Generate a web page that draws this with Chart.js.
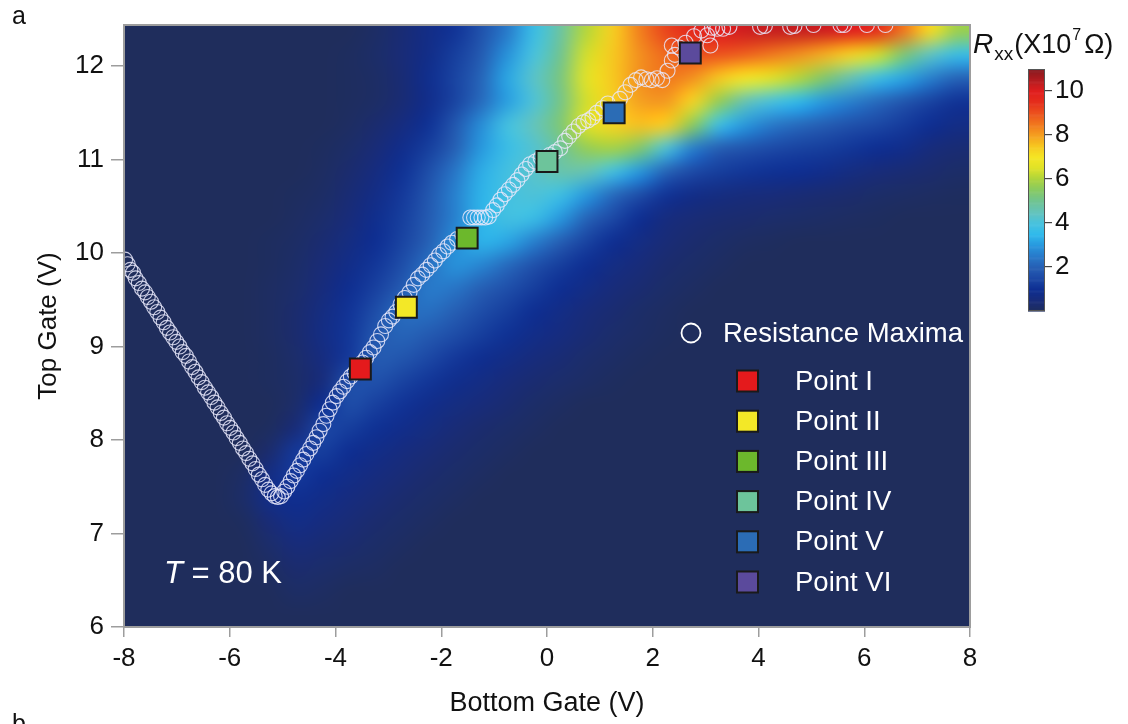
<!DOCTYPE html>
<html><head><meta charset="utf-8">
<script src="https://cdn.jsdelivr.net/npm/chart.js@4.4.1/dist/chart.umd.min.js"></script>
<style>html,body{margin:0;padding:0;background:#fff;}#wrap{width:1128px;height:724px;}</style>
</head><body><div id="wrap"><canvas id="c" width="1128" height="724"></canvas></div>
<script>
const FONT = "'Liberation Sans', Arial, Helvetica, sans-serif";

// ---- axis ticks ----
const xTicks = [-8, -6, -4, -2, 0, 2, 4, 6, 8];
const yTicks = [6, 7, 8, 9, 10, 11, 12];
const cbTicks = [2, 4, 6, 8, 10];

// ---- heat map grid (cell centres, V) and Rxx values (x10^7 Ohm) ----
const gridX = [-7.75,-7.25,-6.75,-6.25,-5.75,-5.25,-4.75,-4.25,-3.75,-3.25,-2.75,-2.25,-1.75,-1.25,-0.75,-0.25,0.25,0.75,1.25,1.75,2.25,2.75,3.25,3.75,4.25,4.75,5.25,5.75,6.25,6.75,7.25,7.75];
const gridY = [6.125,6.375,6.625,6.875,7.125,7.375,7.625,7.875,8.125,8.375,8.625,8.875,9.125,9.375,9.625,9.875,10.125,10.375,10.625,10.875,11.125,11.375,11.625,11.875,12.125,12.375];
const rxx06125 = [0,0,0,0,0,0,0,0,0,0,0,0,0,0,0,0,0,0,0,0,0,0,0,0,0,0,0,0,0,0,0,0];
const rxx06375 = [0,0,0,0,0,0,0.15,0.1,0,0,0,0,0,0,0,0,0,0,0,0,0,0,0,0,0,0,0,0,0,0,0,0];
const rxx06625 = [0,0,0,0,0,0.1,0.3,0.25,0.15,0.1,0,0,0,0,0,0,0,0,0,0,0,0,0,0,0,0,0,0,0,0,0,0];
const rxx06875 = [0,0,0,0,0,0.25,0.5,0.4,0.3,0.2,0.1,0,0,0,0,0,0,0,0,0,0,0,0,0,0,0,0,0,0,0,0,0];
const rxx07125 = [0,0,0,0,0.05,0.45,0.75,0.6,0.45,0.3,0.2,0.1,0,0,0,0,0,0,0,0,0,0,0,0,0,0,0,0,0,0,0,0];
const rxx07375 = [0,0,0,0,0.2,0.8,0.95,0.8,0.6,0.45,0.3,0.2,0.1,0,0,0,0,0,0,0,0,0,0,0,0,0,0,0,0,0,0,0];
const rxx07625 = [0,0,0,0,0.15,0.7,1.2,1.0,0.8,0.6,0.45,0.3,0.2,0.1,0,0,0,0,0,0,0,0,0,0,0,0,0,0,0,0,0,0];
const rxx07875 = [0,0,0,0,0,0.3,1.2,1.3,1.0,0.8,0.6,0.45,0.3,0.2,0.1,0,0,0,0,0,0,0,0,0,0,0,0,0,0,0,0,0];
const rxx08125 = [0,0,0,0,0,0.05,0.5,1.45,1.3,1.05,0.85,0.65,0.45,0.3,0.2,0.1,0,0,0,0,0,0,0,0,0,0,0,0,0,0,0,0];
const rxx08375 = [0,0,0,0,0,0,0.25,1.0,1.6,1.35,1.1,0.85,0.65,0.5,0.35,0.2,0.1,0,0,0,0,0,0,0,0,0,0,0,0,0,0,0];
const rxx08625 = [0,0,0,0,0,0.05,0.2,0.55,1.6,1.7,1.4,1.15,0.9,0.7,0.5,0.35,0.25,0.15,0.05,0,0,0,0,0,0,0,0,0,0,0,0,0];
const rxx08875 = [0,0,0,0,0,0.05,0.25,0.6,1.2,1.9,1.8,1.5,1.2,0.95,0.75,0.55,0.4,0.25,0.15,0.05,0,0,0,0,0,0,0,0,0,0,0,0];
const rxx09125 = [0,0,0,0,0,0.1,0.3,0.7,1.15,1.8,2.1,1.9,1.6,1.3,1.05,0.8,0.6,0.4,0.25,0.15,0.05,0,0,0,0,0,0,0,0,0,0,0];
const rxx09375 = [0,0,0,0,0,0.1,0.3,0.65,1.1,1.6,2.2,2.3,2.0,1.6,1.3,1.0,0.75,0.5,0.35,0.2,0.1,0,0,0,0,0,0,0,0,0,0,0];
const rxx09625 = [0,0,0,0,0,0.1,0.25,0.55,0.95,1.35,1.9,2.5,2.4,2.0,1.65,1.3,1.0,0.75,0.5,0.35,0.2,0.1,0,0,0,0,0,0,0,0,0,0];
const rxx09875 = [0,0,0,0,0,0.05,0.2,0.45,0.8,1.15,1.6,2.3,2.9,2.7,2.2,1.7,1.3,1.0,0.7,0.5,0.3,0.2,0.1,0,0,0,0,0,0,0,0,0];
const rxx10125 = [0,0,0,0,0,0.05,0.15,0.35,0.65,1.0,1.4,2.0,2.8,3.4,3.2,2.6,2.0,1.4,1.0,0.7,0.45,0.3,0.2,0.1,0.05,0,0,0,0,0,0,0];
const rxx10375 = [0,0,0,0,0,0,0.1,0.25,0.5,0.9,1.3,1.9,2.6,3.4,3.9,3.7,3.0,2.1,1.5,1.0,0.6,0.45,0.35,0.3,0.25,0.2,0.15,0.1,0.05,0,0,0];
const rxx10625 = [0,0,0,0,0,0,0.05,0.15,0.4,0.75,1.2,1.8,2.6,3.4,3.9,4.1,3.8,3.0,2.2,1.6,1.1,0.8,0.65,0.55,0.5,0.42,0.35,0.28,0.2,0.15,0.1,0.05];
const rxx10875 = [0,0,0,0,0,0,0,0.1,0.3,0.6,1.05,1.6,2.4,3.3,3.9,4.3,4.7,4.6,3.9,3.0,2.1,1.55,1.3,1.15,1.05,1.0,0.85,0.65,0.5,0.4,0.3,0.2];
const rxx11125 = [0,0,0,0,0,0,0,0.05,0.2,0.45,0.85,1.3,2.0,3.0,3.7,4.2,4.9,5.7,5.9,5.4,4.1,2.6,2.0,1.75,1.55,1.4,1.3,1.15,1.0,0.85,0.55,0.4];
const rxx11375 = [0,0,0,0,0,0,0,0,0.1,0.3,0.6,1.05,1.8,2.8,3.9,4.5,5.3,6.5,7.3,7.6,7.4,5.6,3.8,3.0,2.5,2.2,1.95,1.7,1.5,1.25,1.0,0.75];
const rxx11625 = [0,0,0,0,0,0,0,0,0.05,0.15,0.4,0.85,1.4,2.2,3.1,4.1,5.1,6.4,7.4,8.0,8.1,7.3,5.7,4.6,4.0,3.5,3.0,2.6,2.2,1.8,1.4,1.1];
const rxx11875 = [0,0,0,0,0,0,0,0,0.05,0.15,0.4,0.9,1.4,2.1,3.2,4.3,5.2,6.6,7.5,8.2,8.5,8.2,7.5,7.0,6.6,6.1,5.4,4.6,3.8,3.2,2.6,2.1];
const rxx12125 = [0,0,0,0,0,0,0,0,0.05,0.2,0.45,0.8,1.3,1.9,2.9,4.0,5.0,6.4,7.5,8.2,8.7,9.0,9.0,8.8,8.5,8.2,7.8,7.3,6.4,5.3,4.4,3.7];
const rxx12375 = [0,0,0,0,0,0,0,0,0,0.15,0.4,0.75,1.1,1.7,2.5,3.7,4.8,6.1,7.4,8.4,9.2,9.7,10.0,10.2,10.3,10.3,10.2,10.0,9.5,8.5,7.2,5.8];
const heatRows = [rxx06125,rxx06375,rxx06625,rxx06875,rxx07125,rxx07375,rxx07625,rxx07875,rxx08125,rxx08375,rxx08625,rxx08875,rxx09125,rxx09375,rxx09625,rxx09875,rxx10125,rxx10375,rxx10625,rxx10875,rxx11125,rxx11375,rxx11625,rxx11875,rxx12125,rxx12375];

// ---- resistance maxima (open circles) ----
const maxX = [-7.98,-7.93,-7.88,-7.83,-7.78,-7.72,-7.66,-7.60,-7.55,-7.49,-7.43,-7.37,-7.31,-7.25,-7.19,-7.13,-7.07,-7.01,-6.95,-6.89,-6.83,-6.77,-6.71,-6.65,-6.59,-6.53,-6.47,-6.41,-6.35,-6.29,-6.23,-6.17,-6.11,-6.05,-5.99,-5.93,-5.87,-5.81,-5.75,-5.69,-5.63,-5.57,-5.51,-5.45,-5.39,-5.33,-5.27,-5.21,-5.15,-5.09,
 -5.03,-4.97,-4.91,-4.85,-4.79,-4.73,-4.67,-4.61,-4.55,-4.48,-4.42,-4.36,-4.30,-4.23,-4.17,-4.11,-4.05,-3.98,-3.92,-3.85,-3.78,-3.71,-3.64,-3.56,-3.49,-3.42,-3.35,-3.28,-3.21,-3.14,-3.06,-2.99,-2.92,-2.85,-2.77,-2.69,-2.60,-2.52,-2.44,-2.36,-2.28,-2.20,-2.12,-2.04,-1.96,-1.88,-1.80,-1.70,-1.60,
 -1.45,-1.38,-1.31,-1.24,-1.17,-1.10,-1.02,-0.95,-0.88,-0.80,-0.72,-0.64,-0.56,-0.48,-0.40,-0.32,-0.22,-0.12,0.05,0.15,0.25,0.34,0.42,0.50,0.60,0.69,0.78,0.86,0.94,1.05,1.15,1.38,1.48,1.58,1.68,1.78,1.88,1.98,2.08,2.18,2.28,2.36,2.42,2.36,2.50,2.62,2.78,2.92,3.03,3.09,3.12,3.22,3.33,3.45,4.03,4.12,4.60,4.68,5.04,5.55,5.62,6.05,6.40];
const maxY = [9.93,9.88,9.82,9.79,9.73,9.68,9.62,9.58,9.53,9.48,9.42,9.37,9.31,9.26,9.20,9.15,9.10,9.05,9.00,8.94,8.90,8.84,8.78,8.73,8.67,8.62,8.56,8.51,8.46,8.40,8.35,8.29,8.24,8.18,8.13,8.08,8.02,7.97,7.91,7.86,7.80,7.75,7.69,7.63,7.58,7.52,7.47,7.43,7.40,7.39,
 7.40,7.45,7.50,7.56,7.62,7.67,7.73,7.79,7.85,7.91,7.97,8.03,8.10,8.17,8.26,8.33,8.40,8.47,8.52,8.57,8.63,8.68,8.72,8.78,8.83,8.88,8.94,8.99,9.06,9.13,9.22,9.28,9.32,9.37,9.45,9.52,9.58,9.66,9.73,9.77,9.82,9.87,9.92,9.98,10.02,10.07,10.11,10.15,10.19,
 10.38,10.38,10.38,10.38,10.38,10.39,10.46,10.51,10.57,10.63,10.68,10.73,10.78,10.84,10.90,10.95,10.98,11.02,11.05,11.08,11.12,11.20,11.25,11.30,11.36,11.40,11.42,11.45,11.50,11.55,11.60,11.65,11.72,11.80,11.85,11.88,11.86,11.85,11.87,11.85,11.95,12.06,12.12,12.22,12.20,12.25,12.32,12.38,12.33,12.22,12.41,12.40,12.40,12.42,12.42,12.43,12.42,12.43,12.44,12.44,12.44,12.44,12.44];

// ---- marked points ----
const pointNames = ['Point I','Point II','Point III','Point IV','Point V','Point VI'];
const pointX = [-3.53, -2.66, -1.51, 0.00, 1.27, 2.71];
const pointY = [8.76, 9.42, 10.16, 10.98, 11.50, 12.14];
const pointColors = ['#e41a1c','#f3e827','#6cb82c','#6dc49b','#2b6cb5','#5b4a9c'];

// ---- colour map (value in 10^7 Ohm -> rgb) ----
const cmapStops = [
 [0,[31,45,92]],[0.5,[24,44,122]],[1.0,[14,46,146]],[1.5,[28,72,165]],[2.0,[38,95,180]],[2.5,[40,122,202]],
 [3.0,[40,152,222]],[3.5,[48,186,236]],[4.0,[72,194,222]],[4.5,[100,196,188]],[5.0,[112,196,146]],[5.5,[135,202,100]],
 [6.0,[172,212,62]],[6.5,[222,226,40]],[7.0,[245,230,36]],[7.5,[247,200,32]],[8.0,[245,160,32]],[8.5,[241,120,30]],
 [9.0,[236,82,30]],[9.5,[229,46,28]],[10.0,[224,30,30]],[10.5,[180,28,32]],[11.0,[135,25,30]]];
function cmap(v){
  if (v <= cmapStops[0][0]) return cmapStops[0][1];
  for (let k = 1; k < cmapStops.length; k++){
    const [v1,c1] = cmapStops[k];
    if (v <= v1){
      const [v0,c0] = cmapStops[k-1];
      const t = (v - v0)/(v1 - v0);
      return [0,1,2].map(n => Math.round(c0[n] + (c1[n]-c0[n])*t));
    }
  }
  return cmapStops[cmapStops.length-1][1];
}
const rgb = c => `rgb(${c[0]},${c[1]},${c[2]})`;

// ---- plugins ----
const heatPlugin = {
  id: 'heat',
  beforeDatasetsDraw(chart){
    const {ctx, chartArea: a, scales: {x, y}} = chart;
    const nx = gridX.length, ny = gridY.length;
    const off = document.createElement('canvas');
    off.width = nx + 2; off.height = ny + 2;
    const octx = off.getContext('2d');
    const img = octx.createImageData(nx + 2, ny + 2);
    for (let r = 0; r < ny + 2; r++){
      const j = Math.min(ny - 1, Math.max(0, ny - r));
      for (let c = 0; c < nx + 2; c++){
        const i = Math.min(nx - 1, Math.max(0, c - 1));
        const col = cmap(heatRows[j][i]);
        const p = (r * (nx + 2) + c) * 4;
        img.data[p] = col[0]; img.data[p+1] = col[1]; img.data[p+2] = col[2]; img.data[p+3] = 255;
      }
    }
    octx.putImageData(img, 0, 0);
    const hx = (gridX[1] - gridX[0]) / 2, hy = (gridY[1] - gridY[0]) / 2;
    const x0 = x.getPixelForValue(gridX[0] - hx), x1 = x.getPixelForValue(gridX[nx-1] + hx);
    const yT = y.getPixelForValue(gridY[ny-1] + hy), yB = y.getPixelForValue(gridY[0] - hy);
    ctx.save();
    ctx.beginPath(); ctx.rect(a.left, a.top, a.right - a.left, a.bottom - a.top); ctx.clip();
    ctx.fillStyle = rgb(cmap(0)); ctx.fillRect(a.left, a.top, a.right - a.left, a.bottom - a.top);
    ctx.imageSmoothingEnabled = true; ctx.imageSmoothingQuality = 'high';
    ctx.drawImage(off, 1, 1, nx, ny, x0, yT, x1 - x0, yB - yT);
    ctx.restore();
  }
};

const cbPlugin = {
  id: 'cbPlace',
  afterLayout(chart){
    const cb = chart.scales.cb;
    cb.left = 1045; cb.right = 1115; cb.width = 70;
    cb.top = 69; cb.bottom = 311; cb.height = 242;
    cb.configure();
  },
  afterDraw(chart){
    const {ctx} = chart;
    const cb = chart.scales.cb;
    const w = 17, xl = cb.left - w;
    ctx.save();
    const step = 0.05;
    for (let v = cb.min; v < cb.max; v += step){
      const yA = cb.getPixelForValue(v), yBp = cb.getPixelForValue(Math.min(cb.max, v + step));
      ctx.fillStyle = rgb(cmap(v + step/2));
      ctx.fillRect(xl, yBp, w, yA - yBp + 0.6);
    }
    ctx.strokeStyle = '#555'; ctx.lineWidth = 1;
    ctx.strokeRect(xl + 0.5, cb.getPixelForValue(cb.max) + 0.5, w - 1, cb.getPixelForValue(cb.min) - cb.getPixelForValue(cb.max) - 1);
    // colour bar title: R_xx (X10^7 Ω)
    ctx.fillStyle = '#111'; ctx.textBaseline = 'alphabetic'; ctx.textAlign = 'left';
    let tx = 973; const by = 53;
    ctx.font = `italic 28px ${FONT}`; ctx.fillText('R', tx, by); tx += ctx.measureText('R').width + 1;
    ctx.font = `19px ${FONT}`; ctx.fillText('xx', tx, by + 7); tx += ctx.measureText('xx').width + 1;
    ctx.font = `27px ${FONT}`; ctx.fillText('(X10', tx, by); tx += ctx.measureText('(X10').width + 1;
    ctx.font = `16px ${FONT}`; ctx.fillText('7', tx, by - 13); tx += ctx.measureText('7').width + 3;
    ctx.font = `27px ${FONT}`; ctx.fillText('Ω)', tx, by);
    // panel letters
    ctx.font = `25px ${FONT}`;
    ctx.fillText('a', 12, 24);
    ctx.fillText('b', 12, 732);
    ctx.restore();
  }
};

const overlayPlugin = {
  id: 'overlay',
  afterDatasetsDraw(chart){
    const {ctx, chartArea: a} = chart;
    ctx.save();
    ctx.strokeStyle = '#9d9d9d'; ctx.lineWidth = 2;
    ctx.strokeRect(a.left, a.top, a.right - a.left, a.bottom - a.top);
    // T = 80 K
    ctx.fillStyle = '#ffffff'; ctx.textBaseline = 'alphabetic'; ctx.textAlign = 'left';
    ctx.font = `italic 31px ${FONT}`;
    const tX = a.left + 40, tY = a.bottom - 44;
    ctx.fillText('T', tX, tY);
    const tw = ctx.measureText('T').width;
    ctx.font = `31px ${FONT}`;
    ctx.fillText(' = 80 K', tX + tw, tY);
    // legend (inside plot)
    const ds = chart.data.datasets;
    ctx.textBaseline = 'middle';
    ctx.font = `27.5px ${FONT}`;
    const cy0 = a.top + 308;
    ctx.strokeStyle = '#ffffff'; ctx.lineWidth = 1.8;
    ctx.beginPath(); ctx.arc(a.right - 279, cy0, 9.5, 0, Math.PI * 2); ctx.stroke();
    ctx.fillText(ds[0].label, a.right - 247, cy0 + 1);
    for (let k = 1; k < ds.length; k++){
      const cy = a.top + 356 + (k - 1) * 40.2;
      const cx = a.right - 222.5;
      ctx.fillStyle = ds[k].pointBackgroundColor;
      ctx.fillRect(cx - 10.5, cy - 10.5, 21, 21);
      ctx.strokeStyle = '#1a1a1a'; ctx.lineWidth = 2;
      ctx.strokeRect(cx - 10.5, cy - 10.5, 21, 21);
      ctx.fillStyle = '#ffffff';
      ctx.fillText(ds[k].label, a.right - 175, cy + 1);
    }
    ctx.restore();
  }
};

// ---- datasets ----
const datasets = [{
  label: 'Resistance Maxima',
  data: maxX.map((v, i) => ({x: v, y: maxY[i]})),
  pointStyle: 'circle', pointRadius: 7.5, pointBorderWidth: 1.1,
  pointBorderColor: 'rgba(232,232,250,0.85)', pointBackgroundColor: 'rgba(0,0,0,0)',
  showLine: false, clip: 0, order: 1
}];
pointNames.forEach((n, k) => datasets.push({
  label: n, data: [{x: pointX[k], y: pointY[k]}],
  pointStyle: 'rect', pointRadius: 14.8, pointBorderWidth: 2,
  pointBorderColor: '#1a1a1a', pointBackgroundColor: pointColors[k],
  showLine: false, clip: false, order: 0
}));

new Chart(document.getElementById('c'), {
  type: 'scatter',
  data: {datasets},
  options: {
    responsive: false, animation: false, devicePixelRatio: 1,
    layout: {padding: {left: 0, top: 25, right: 158, bottom: 0}},
    plugins: {legend: {display: false}, tooltip: {enabled: false}},
    events: [],
    scales: {
      x: {
        type: 'linear', position: 'bottom', min: -8, max: 8,
        afterBuildTicks: s => { s.ticks = xTicks.map(v => ({value: v})); },
        afterFit: s => { s.height = 97; },
        grid: {display: true, drawOnChartArea: false, drawTicks: true, tickLength: 10, color: '#9d9d9d', lineWidth: 1.5},
        border: {display: false},
        ticks: {font: {family: FONT, size: 26}, color: '#111', padding: 6, maxRotation: 0, autoSkip: false, callback: v => String(v)},
        title: {display: true, text: 'Bottom Gate (V)', font: {family: FONT, size: 27}, color: '#111', padding: {top: 0, bottom: 4}}
      },
      y: {
        type: 'linear', position: 'left', min: 6, max: 12.44,
        afterBuildTicks: s => { s.ticks = yTicks.map(v => ({value: v})); },
        afterFit: s => { s.width = 124; },
        grid: {display: true, drawOnChartArea: false, drawTicks: true, tickLength: 13, color: '#9d9d9d', lineWidth: 1.5},
        border: {display: false},
        ticks: {font: {family: FONT, size: 26}, color: '#111', padding: 7, callback: v => String(v)},
        title: {display: true, text: 'Top Gate (V)', font: {family: FONT, size: 26}, color: '#111', padding: {top: 33, bottom: 0}}
      },
      cb: {
        type: 'linear', axis: 'y', position: 'right', min: 0, max: 11,
        afterBuildTicks: s => { s.ticks = cbTicks.map(v => ({value: v})); },
        afterFit: s => { s.width = 0; },
        grid: {display: true, drawOnChartArea: false, drawTicks: true, tickLength: 7, color: '#444', lineWidth: 1.2},
        border: {display: false},
        ticks: {font: {family: FONT, size: 26}, color: '#111', padding: 3, callback: v => String(v)}
      }
    }
  },
  plugins: [heatPlugin, cbPlugin, overlayPlugin]
});
</script>
</body></html>
